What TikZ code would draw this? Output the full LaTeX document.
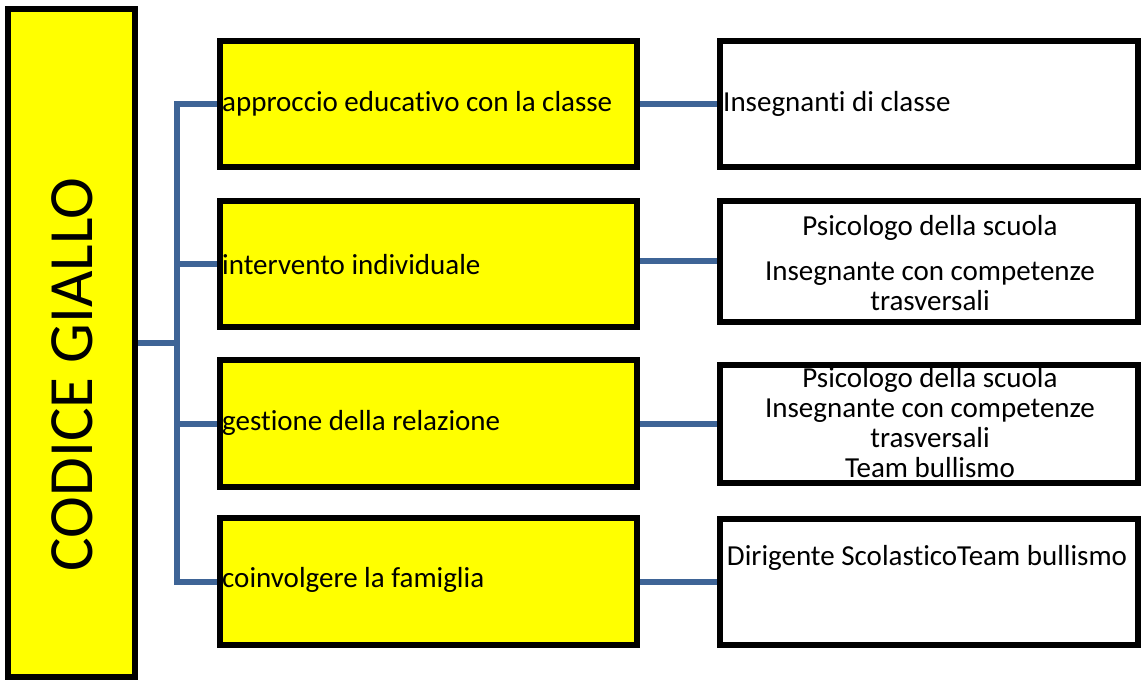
\documentclass[tikz,border=0pt]{standalone}
\usepackage{fontspec}
\setmainfont{Carlito}[Ligatures=NoCommon]
\definecolor{connblue}{RGB}{62,100,150}
\definecolor{yel}{RGB}{255,255,0}
\begin{document}
\begin{tikzpicture}[x=1pt,y=-1pt,
  ybox/.style={draw=black,fill=yel,line width=6pt,inner sep=0pt},
  wbox/.style={draw=black,fill=white,line width=6pt,inner sep=0pt},
  conn/.style={draw=connblue,line width=6pt},
  txt/.style={inner sep=0pt,font=\fontsize{29}{30}\selectfont},
  every node/.append style={text=black}]
\useasboundingbox (0,0) rectangle (1141,680);

% boxes
\node[ybox,minimum width=127,minimum height=668] (L) at (71.5,343) {};
\node[ybox,minimum width=417,minimum height=126] (M1) at (428.5,104) {};
\node[ybox,minimum width=417,minimum height=126] (M2) at (428.5,264) {};
\node[ybox,minimum width=417,minimum height=127] (M3) at (428.5,423.5) {};
\node[ybox,minimum width=417,minimum height=127] (M4) at (428.5,581.5) {};
\node[wbox,minimum width=418,minimum height=126] (R1) at (929,104) {};
\node[wbox,minimum width=418,minimum height=121] (R2) at (929,261.5) {};
\node[wbox,minimum width=418,minimum height=118] (R3) at (929,423.5) {};
\node[wbox,minimum width=418,minimum height=126] (R4) at (929,582) {};

% connectors
\coordinate (j0) at (177,343);
\coordinate (j1) at (177,104);
\coordinate (j2) at (177,264);
\coordinate (j3) at (177,423.5);
\coordinate (j4) at (177,581.5);
\draw[conn] (M1.west) -- (j1) -- (j4) -- (M4.west);
\draw[conn] (L.east) -- (j0);
\draw[conn] (j2) -- (M2.west);
\draw[conn] (j3) -- (M3.west);
\draw[conn] (M1.east) -- (M1.east -| R1.west);
\draw[conn] ([yshift=3]M2.east) -- ([yshift=3]M2.east -| R2.west);
\draw[conn] (M3.east) -- (M3.east -| R3.west);
\draw[conn] (M4.east) -- (M4.east -| R4.west);

% texts
\node[rotate=90,inner sep=0pt,font=\fontsize{63}{70}\selectfont] (T) at (72,374.5) {CODICE GIALLO};
\node[txt,anchor=west] (t1) at (222,104) {approccio educativo con la classe};
\node[txt,anchor=west] (t2) at (222,265) {intervento individuale};
\node[txt,anchor=west] (t3) at (222,423) {gestione della relazione};
\node[txt,anchor=west] (t4) at (222,580) {coinvolgere la famiglia};
\node[txt,anchor=west] (u1) at (723,104) {Insegnanti di classe};
\node[txt,align=center] (u2) at (930,263) {Psicologo della scuola\\[15pt]Insegnante con competenze\\trasversali};
\node[txt,align=center] (u3) at (930,423) {Psicologo della scuola\\Insegnante con competenze\\trasversali\\Team bullismo};
\node[txt] (u4) at (927,558) {Dirigente ScolasticoTeam bullismo};
\end{tikzpicture}
\end{document}
